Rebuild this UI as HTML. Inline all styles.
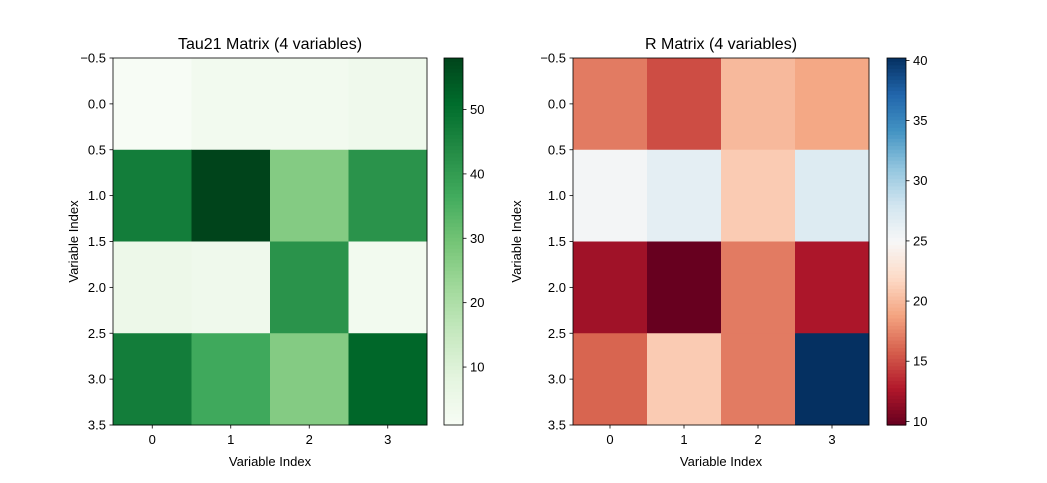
<!DOCTYPE html>
<html><head><meta charset="utf-8"><style>
body{margin:0;background:#fff}
svg text{font-family:"Liberation Sans",sans-serif;fill:#000}
</style></head><body>
<svg id="c" width="1047" height="478" xmlns="http://www.w3.org/2000/svg"></svg>
<script>
const categories=[0,1,2,3];
const tauValues=[[1,3,3,4],[47,58,27,42],[5,4,42,3],[47,37,27,52]];
const rValues=[[17,15,20,19],[25.3,26.5,21,27],[12,9.7,17,12.5],[16,21,17,40.2]];
const yTickLabels=["\u22120.5","0.0","0.5","1.0","1.5","2.0","2.5","3.0","3.5"];
const tauCbTicks=[10,20,30,40,50];
const rCbTicks=[10,15,20,25,30,35,40];
const greens=["#f7fcf5","#e5f5e0","#c7e9c0","#a1d99b","#74c476","#41ab5d","#238b45","#006d2c","#00441b"];
const rdbu=["#67001f","#b2182b","#d6604d","#f4a582","#fddbc7","#f7f7f7","#d1e5f0","#92c5de","#4393c3","#2166ac","#053061"];
const NS="http://www.w3.org/2000/svg";
const svg=document.getElementById('c');
function el(t,a,p){const e=document.createElementNS(NS,t);for(const k in a)e.setAttribute(k,a[k]);(p||svg).appendChild(e);return e;}
function hex(h){return [1,3,5].map(i=>parseInt(h.substr(i,2),16));}
function cmap(stops,t){t=Math.max(0,Math.min(1,t));const n=stops.length-1,f=t*n,i=Math.min(n-1,Math.floor(f)),u=f-i;const a=hex(stops[i]),b=hex(stops[i+1]);return 'rgb('+a.map((v,k)=>Math.round(v+(b[k]-v)*u)).join(',')+')';}
function panel(o){
  const {x0,x1,y0,y1,vals,stops,title,cbx,cbTicks,name,lx}=o;
  const all=vals.flat(),mn=Math.min(...all),mx=Math.max(...all);
  const n=categories.length;
  const cw=(x1-x0)/n,ch=(y1-y0)/n;
  const g=el('g',{});
  vals.forEach((row,r)=>row.forEach((v,c)=>{const e=el('rect',{x:x0+c*cw,y:y0+r*ch,width:cw+0.5,height:ch+0.5,fill:cmap(stops,(v-mn)/(mx-mn))},g);
    }));
  el('rect',{x:x0,y:y0,width:x1-x0,height:y1-y0,fill:'none',stroke:'#000','stroke-width':0.8,});
  yTickLabels.forEach((l,i)=>{const y=y0+i*(y1-y0)/(yTickLabels.length-1);
    el('line',{x1:x0-3.5,x2:x0,y1:y,y2:y,stroke:'#000','stroke-width':0.8});
    const t=el('text',{x:x0-7,y:y+4.5,'font-size':13,'text-anchor':'end'});t.textContent=l;
    });
  categories.forEach((c,i)=>{const x=x0+(i+0.5)*cw;
    el('line',{x1:x,x2:x,y1:y1,y2:y1+3.5,stroke:'#000','stroke-width':0.8});
    const t=el('text',{x:x,y:y1+19,'font-size':13,'text-anchor':'middle'});t.textContent=c;
    });
  let t=el('text',{x:(x0+x1)/2,y:y0-9,'font-size':16,'text-anchor':'middle',});t.textContent=title;
  t=el('text',{x:(x0+x1)/2,y:y1+41,'font-size':13,'text-anchor':'middle',});t.textContent='Variable Index';
  const ly=(y0+y1)/2;
  t=el('text',{x:lx,y:ly,'font-size':13,'text-anchor':'middle',transform:'rotate(-90 '+lx+' '+ly+')',});t.textContent='Variable Index';
  const cbw=19,cg=el('g',{});
  const N=100;for(let i=0;i<N;i++){el('rect',{x:cbx,y:y0+i*(y1-y0)/N,width:cbw,height:(y1-y0)/N+0.6,fill:cmap(stops,1-(i+0.5)/N)},cg);}
  el('rect',{x:cbx,y:y0,width:cbw,height:y1-y0,fill:'none',stroke:'#000','stroke-width':0.8},cg);
  cbTicks.forEach(v=>{const y=y1-(v-mn)/(mx-mn)*(y1-y0);if(y<y0-1||y>y1+1)return;
    el('line',{x1:cbx+cbw,x2:cbx+cbw+3.5,y1:y,y2:y,stroke:'#000','stroke-width':0.8},cg);
    const tt=el('text',{x:cbx+cbw+7,y:y+4.5,'font-size':13},cg);tt.textContent=v;
    });
}
panel({x0:113,x1:427,y0:58,y1:425,vals:tauValues,stops:greens,title:'Tau21 Matrix (4 variables)',cbx:444,cbTicks:tauCbTicks,name:'tau21',lx:78});
panel({x0:573,x1:869,y0:58,y1:425,vals:rValues,stops:rdbu,title:'R Matrix (4 variables)',cbx:887,cbTicks:rCbTicks,name:'r-matrix',lx:521});
</script>
</body></html>
